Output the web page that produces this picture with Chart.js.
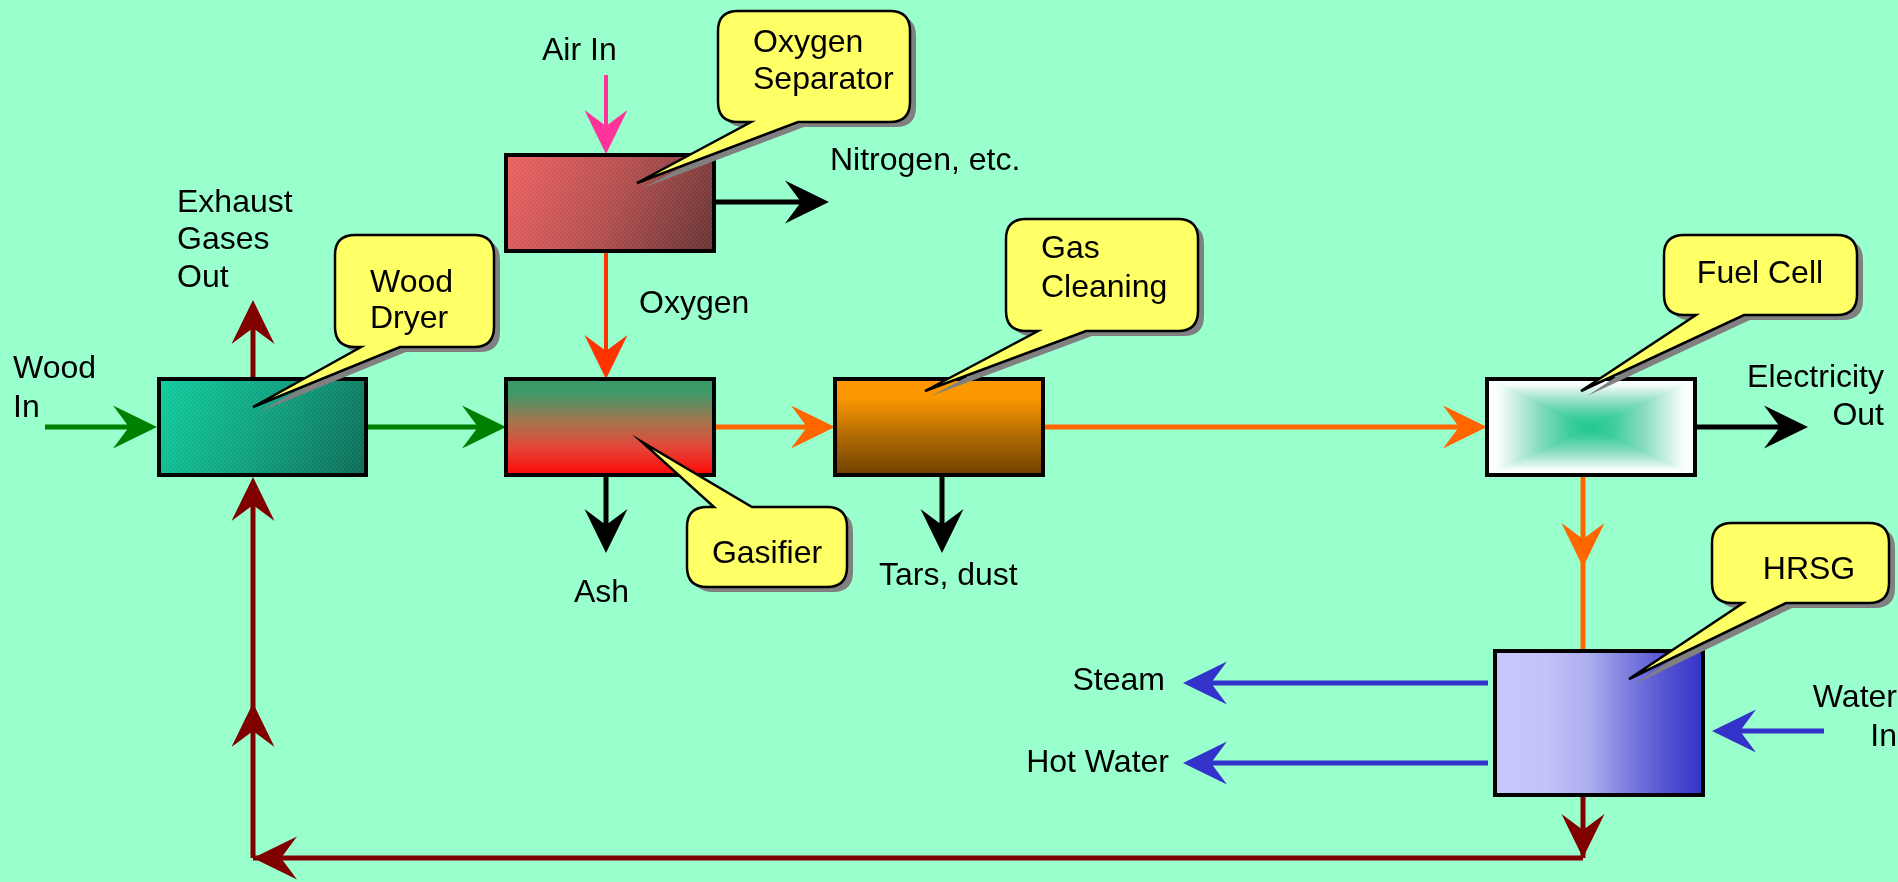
<!DOCTYPE html>
<html>
<head>
<meta charset="utf-8">
<script src="https://cdn.jsdelivr.net/npm/chart.js@4.4.1/dist/chart.umd.min.js"></script>
<style>
html,body{margin:0;padding:0;background:#99ffcc;overflow:hidden;}
#wrap{width:1898px;height:882px;}
</style>
</head>
<body>
<div id="wrap"><canvas id="c" width="1898" height="882"></canvas></div>
<script>
// ---- Diagram data (in diagram coordinate units) ----
const nodeNames = ['Wood Dryer', 'Oxygen Separator', 'Gasifier', 'Gas Cleaning', 'Fuel Cell', 'HRSG'];
const nodeX1 = [159, 506, 506, 835, 1487, 1495];
const nodeX2 = [366, 714, 714, 1043, 1695, 1703];
const nodeY1 = [379, 155, 379, 379, 379, 651];
const nodeY2 = [475, 251, 475, 475, 475, 795];

// flows: start point -> end point (arrow head at end when head flag = 1)
const flowX1 = [45, 366, 714, 1043, 1695, 714, 606, 606, 253, 606, 942, 1583, 1583, 1583, 1583, 253, 253, 1488, 1488, 1824];
const flowY1 = [427, 427, 427, 427, 427, 202, 75, 251, 379, 475, 475, 475, 567, 795, 858, 858, 703, 683, 763, 731];
const flowX2 = [157, 506, 835, 1487, 1808, 829, 606, 606, 253, 606, 942, 1583, 1583, 1583, 253, 253, 253, 1183, 1183, 1712];
const flowY2 = [427, 427, 427, 427, 427, 202, 154, 379, 300, 553, 553, 567, 651, 858, 858, 703, 477, 683, 763, 731];
const flowHead = [1, 1, 1, 1, 1, 1, 1, 1, 1, 1, 1, 1, 0, 1, 1, 1, 1, 1, 1, 1];
const flowKind = ['wood', 'wood', 'gas', 'gas', 'out', 'out', 'air', 'oxy', 'exhaust', 'out', 'out', 'gas', 'gas', 'exhaust', 'exhaust', 'exhaust', 'exhaust', 'water', 'water', 'water'];

// free labels
const labelText = ['Air In', 'Nitrogen, etc.', 'Exhaust', 'Gases', 'Out', 'Wood', 'In', 'Oxygen', 'Ash', 'Tars, dust', 'Electricity', 'Out', 'Steam', 'Hot Water', 'Water', 'In'];
const labelX = [542, 830, 177, 177, 177, 13, 13, 639, 574, 879, 1884, 1884, 1165, 1169, 1897, 1897];
const labelY = [60, 170, 212, 249, 287, 378, 417, 313, 602, 585, 387, 425, 690, 772, 707, 746];
const labelAlign = ['left', 'left', 'left', 'left', 'left', 'left', 'left', 'left', 'left', 'left', 'right', 'right', 'right', 'right', 'right', 'right'];

// callouts
const calloutLines = [['Oxygen', 'Separator'], ['Wood', 'Dryer'], ['Gas', 'Cleaning'], ['Fuel Cell'], ['Gasifier'], ['HRSG']];
const calloutX1 = [718, 335, 1006, 1664, 687, 1712];
const calloutX2 = [910, 494, 1198, 1857, 847, 1889];
const calloutY1 = [11, 235, 219, 235, 507, 523];
const calloutY2 = [122, 347, 331, 315, 587, 603];
const calloutBaseA = [751, 361, 1038, 1696, 714, 1743];
const calloutBaseB = [798, 400, 1086, 1744, 752, 1786];
const calloutTipX = [637, 253, 925, 1581, 642, 1629];
const calloutTipY = [183, 407, 391, 391, 442, 679];
const calloutTextX = [753, 370, 1041, 1760, 767, 1809];
const calloutTextY = [[52, 89], [292, 328], [258, 297], [283], [563], [579]];
const calloutTextAlign = ['left', 'left', 'left', 'center', 'center', 'center'];

// ---- styles ----
const flowColors = {wood: '#008000', gas: '#ff6600', out: '#000000', air: '#ff3399', oxy: '#ff3300', exhaust: '#800000', water: '#3333cc'};
const flowWidths = {wood: 5, gas: 5, out: 5, air: 4, oxy: 4, exhaust: 5, water: 5};
const FONT = '32px "Liberation Sans", Arial, Helvetica, sans-serif';

function hatch(ctx, alpha) {
  const p = document.createElement('canvas');
  p.width = 4; p.height = 4;
  const g = p.getContext('2d');
  g.fillStyle = 'rgba(255,255,255,' + alpha + ')';
  for (let i = 0; i < 4; i++) g.fillRect(i, 3 - i, 1, 1);
  g.fillStyle = 'rgba(0,0,0,' + alpha + ')';
  for (let i = 0; i < 4; i++) g.fillRect(i, (5 - i) % 4, 1, 1);
  return ctx.createPattern(p, 'repeat');
}

const diagram = {
  id: 'diagram',
  beforeDraw(chart) {
    const ctx = chart.ctx;
    ctx.save();
    ctx.fillStyle = '#99ffcc';
    ctx.fillRect(0, 0, chart.width, chart.height);
    ctx.restore();
  },
  afterDatasetsDraw(chart) {
    const ctx = chart.ctx;
    const sx = chart.scales.x, sy = chart.scales.y;
    const X = v => sx.getPixelForValue(v);
    const Y = v => sy.getPixelForValue(v);

    // --- flows ---
    const L = 44, W = 21.5, N = 28;
    for (let i = 0; i < flowX1.length; i++) {
      const x1 = X(flowX1[i]), y1 = Y(flowY1[i]), x2 = X(flowX2[i]), y2 = Y(flowY2[i]);
      const kind = flowKind[i];
      const col = flowColors[kind];
      const len = Math.hypot(x2 - x1, y2 - y1);
      const dx = (x2 - x1) / len, dy = (y2 - y1) / len;
      const px = -dy, py = dx;
      const continues = flowX1.some((v, j) => j !== i && v === flowX2[i] && flowY1[j] === flowY2[i] && flowKind[j] === kind);
      ctx.save();
      ctx.strokeStyle = col;
      ctx.fillStyle = col;
      ctx.lineWidth = flowWidths[kind];
      ctx.lineCap = 'butt';
      ctx.beginPath();
      ctx.moveTo(x1, y1);
      const endBack = (flowHead[i] && !continues) ? 6 : 0;
      ctx.lineTo(x2 - dx * endBack, y2 - dy * endBack);
      ctx.stroke();
      if (flowHead[i]) {
        ctx.beginPath();
        ctx.moveTo(x2, y2);
        ctx.lineTo(x2 - dx * L + px * W, y2 - dy * L + py * W);
        ctx.lineTo(x2 - dx * N, y2 - dy * N);
        ctx.lineTo(x2 - dx * L - px * W, y2 - dy * L - py * W);
        ctx.closePath();
        ctx.fill();
      }
      ctx.restore();
    }

    // --- nodes ---
    for (let i = 0; i < nodeNames.length; i++) {
      const x1 = X(nodeX1[i]), y1 = Y(nodeY1[i]), x2 = X(nodeX2[i]), y2 = Y(nodeY2[i]);
      const w = x2 - x1, h = y2 - y1;
      ctx.save();
      const name = nodeNames[i];
      if (name === 'Wood Dryer') {
        const g = ctx.createLinearGradient(x1, y1, x2, y2);
        g.addColorStop(0, '#12d0a0'); g.addColorStop(0.5, '#12a482'); g.addColorStop(1, '#0f6e58');
        ctx.fillStyle = g; ctx.fillRect(x1, y1, w, h);
        ctx.fillStyle = hatch(ctx, 0.06); ctx.fillRect(x1, y1, w, h);
      } else if (name === 'Oxygen Separator') {
        const g = ctx.createLinearGradient(x1, y1, x2, y2);
        g.addColorStop(0, '#f26464'); g.addColorStop(0.5, '#b85252'); g.addColorStop(1, '#683636');
        ctx.fillStyle = g; ctx.fillRect(x1, y1, w, h);
        ctx.fillStyle = hatch(ctx, 0.06); ctx.fillRect(x1, y1, w, h);
      } else if (name === 'Gasifier') {
        const g = ctx.createLinearGradient(0, y1, 0, y2);
        g.addColorStop(0, '#3a9a6a'); g.addColorStop(0.15, '#3f9868'); g.addColorStop(0.45, '#a8744e');
        g.addColorStop(0.7, '#e2483a'); g.addColorStop(1, '#ff0808');
        ctx.fillStyle = g; ctx.fillRect(x1, y1, w, h);
      } else if (name === 'Gas Cleaning') {
        const g = ctx.createLinearGradient(0, y1, 0, y2);
        g.addColorStop(0, '#ff9900'); g.addColorStop(0.2, '#fb9700'); g.addColorStop(0.6, '#b06a04');
        g.addColorStop(1, '#6e4000');
        ctx.fillStyle = g; ctx.fillRect(x1, y1, w, h);
      } else if (name === 'Fuel Cell') {
        const cx = (x1 + x2) / 2, cy = (y1 + y2) / 2;
        const tris = [
          [[x1, y1], [x2, y1], cx, y1, cx, cy],
          [[x2, y2], [x1, y2], cx, y2, cx, cy],
          [[x1, y2], [x1, y1], x1, cy, cx, cy],
          [[x2, y1], [x2, y2], x2, cy, cx, cy]
        ];
        for (const t of tris) {
          const g = ctx.createLinearGradient(t[2], t[3], t[4], t[5]);
          g.addColorStop(0, '#ffffff'); g.addColorStop(0.12, '#f6fcfa'); g.addColorStop(0.5, '#86dcbe');
          g.addColorStop(0.8, '#3ccd9c'); g.addColorStop(1, '#1ec890');
          ctx.fillStyle = g;
          ctx.beginPath();
          ctx.moveTo(t[0][0], t[0][1]); ctx.lineTo(t[1][0], t[1][1]); ctx.lineTo(cx, cy); ctx.closePath();
          ctx.fill();
          ctx.strokeStyle = g; ctx.lineWidth = 0.8; ctx.stroke();
        }
      } else if (name === 'HRSG') {
        const g = ctx.createLinearGradient(x1, 0, x2, 0);
        g.addColorStop(0, '#c8c8ff'); g.addColorStop(0.25, '#c2c2fa'); g.addColorStop(0.45, '#adadf0');
        g.addColorStop(0.62, '#8282e0'); g.addColorStop(0.8, '#5858d4'); g.addColorStop(1, '#3333c8');
        ctx.fillStyle = g; ctx.fillRect(x1, y1, w, h);
      }
      ctx.lineWidth = 4;
      ctx.strokeStyle = '#000000';
      ctx.strokeRect(x1, y1, w, h);
      ctx.restore();
    }

    // --- callouts ---
    function calloutPath(i, ox, oy) {
      const x1 = X(calloutX1[i]) + ox, y1 = Y(calloutY1[i]) + oy, x2 = X(calloutX2[i]) + ox, y2 = Y(calloutY2[i]) + oy;
      const a = X(calloutBaseA[i]) + ox, b = X(calloutBaseB[i]) + ox;
      const tx = X(calloutTipX[i]) + ox, ty = Y(calloutTipY[i]) + oy;
      const r = 20;
      const onTop = calloutTipY[i] < calloutY1[i];
      ctx.beginPath();
      ctx.moveTo(x1 + r, y1);
      if (onTop) { ctx.lineTo(a, y1); ctx.lineTo(tx, ty); ctx.lineTo(b, y1); }
      ctx.lineTo(x2 - r, y1);
      ctx.quadraticCurveTo(x2, y1, x2, y1 + r);
      ctx.lineTo(x2, y2 - r);
      ctx.quadraticCurveTo(x2, y2, x2 - r, y2);
      if (!onTop) { ctx.lineTo(b, y2); ctx.lineTo(tx, ty); ctx.lineTo(a, y2); }
      ctx.lineTo(x1 + r, y2);
      ctx.quadraticCurveTo(x1, y2, x1, y2 - r);
      ctx.lineTo(x1, y1 + r);
      ctx.quadraticCurveTo(x1, y1, x1 + r, y1);
      ctx.closePath();
    }
    for (let i = 0; i < calloutLines.length; i++) {
      ctx.save();
      calloutPath(i, 6, 5);
      ctx.fillStyle = '#808080';
      ctx.fill();
      calloutPath(i, 0, 0);
      ctx.fillStyle = '#ffff66';
      ctx.fill();
      ctx.lineWidth = 2.5;
      ctx.lineJoin = 'miter';
      ctx.strokeStyle = '#000000';
      ctx.stroke();
      ctx.fillStyle = '#000000';
      ctx.font = FONT;
      ctx.textAlign = calloutTextAlign[i];
      ctx.textBaseline = 'alphabetic';
      for (let k = 0; k < calloutLines[i].length; k++) {
        ctx.fillText(calloutLines[i][k], X(calloutTextX[i]), Y(calloutTextY[i][k]));
      }
      ctx.restore();
    }

    // --- free labels ---
    ctx.save();
    ctx.fillStyle = '#000000';
    ctx.font = FONT;
    ctx.textBaseline = 'alphabetic';
    for (let i = 0; i < labelText.length; i++) {
      ctx.textAlign = labelAlign[i];
      ctx.fillText(labelText[i], X(labelX[i]), Y(labelY[i]));
    }
    ctx.restore();
  }
};

new Chart(document.getElementById('c').getContext('2d'), {
  type: 'scatter',
  data: {
    datasets: [{
      label: 'Process units',
      data: nodeNames.map((n, i) => ({x: (nodeX1[i] + nodeX2[i]) / 2, y: (nodeY1[i] + nodeY2[i]) / 2})),
      pointRadius: 0,
      showLine: false
    }]
  },
  options: {
    responsive: false,
    animation: false,
    events: [],
    layout: {padding: 0},
    plugins: {legend: {display: false}, tooltip: {enabled: false}, title: {display: false}},
    scales: {
      x: {type: 'linear', min: 0, max: 1898, display: false},
      y: {type: 'linear', min: 0, max: 882, reverse: true, display: false}
    }
  },
  plugins: [diagram]
});
</script>
</body>
</html>
